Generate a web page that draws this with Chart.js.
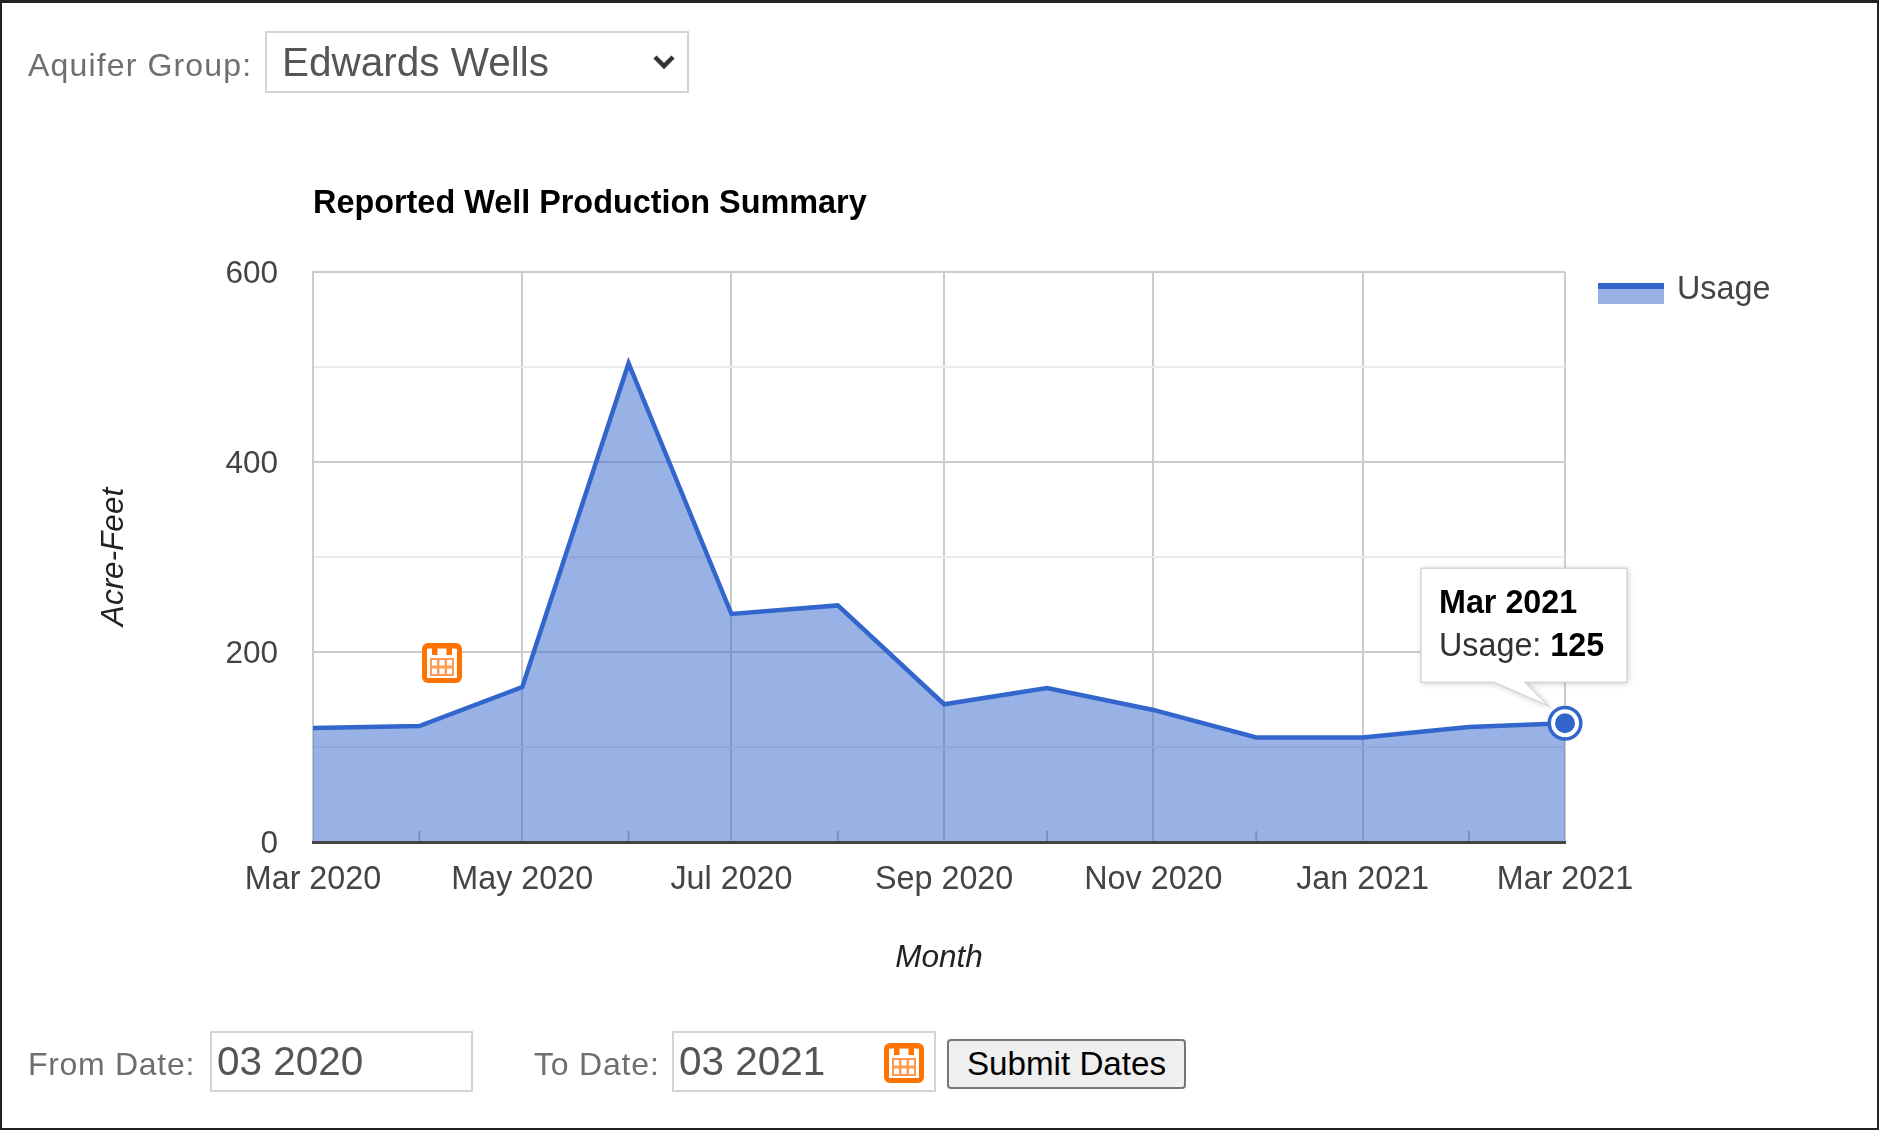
<!DOCTYPE html>
<html>
<head>
<meta charset="utf-8">
<title>Reported Well Production Summary</title>
<script src="https://cdn.jsdelivr.net/npm/chart.js@4/dist/chart.umd.min.js"></script>
<style>
  html, body { margin: 0; padding: 0; background: #fff; overflow: hidden; }
  body { font-family: "Liberation Sans", Arial, sans-serif; }
  #page { position: relative; width: 1879px; height: 1130px; box-sizing: border-box; }
  #frame { position: absolute; left: 0; top: 0; width: 1879px; height: 1130px; box-sizing: border-box;
           border: 2px solid #222; border-top-width: 3px; pointer-events: none; }
  #chart { position: absolute; left: 0; top: 0; }
  .label { position: absolute; color: #6f6f6f; font-size: 32px; line-height: 36px; white-space: nowrap; }
  .field { position: absolute; box-sizing: border-box; border: 2px solid #d4d4d4; background: #fff;
           color: #555; font: 40.5px "Liberation Sans", Arial, sans-serif; padding: 0; margin: 0; outline: none; border-radius: 0; }
  select.field { appearance: none; -webkit-appearance: none; padding-left: 15px; }
  input.field { padding-left: 5px; }
  #submit { position: absolute; left: 947px; top: 1039px; width: 239px; height: 50px; box-sizing: border-box;
            border: 2px solid #767676; border-radius: 4px; background: #efefef; color: #000;
            font: 33.2px "Liberation Sans", Arial, sans-serif; padding: 0; }
  #chevron { position: absolute; left: 652px; top: 54px; }
  .cal { position: absolute; width: 40px; height: 40px; }
</style>
</head>
<body>
<div id="page">
  <canvas id="chart" width="1879" height="1130"></canvas>

  <span class="label" style="left:28px;top:47px;letter-spacing:1.15px">Aquifer Group:</span>
  <select class="field" style="left:265px;top:31px;width:424px;height:62px"><option>Edwards Wells</option></select>
  <svg id="chevron" width="24" height="16" viewBox="0 0 24 16"><path d="M3 3 L12 12 L21 3" fill="none" stroke="#333" stroke-width="4.5"/></svg>

  <span class="label" style="left:28px;top:1046px;letter-spacing:0.7px">From Date:</span>
  <input class="field" style="left:210px;top:1031px;width:263px;height:61px" value="03 2020">
  <span class="label" style="left:534px;top:1046px;letter-spacing:0.8px">To Date:</span>
  <input class="field" style="left:672px;top:1031px;width:264px;height:61px" value="03 2021">
  <button id="submit">Submit Dates</button>

  <svg width="0" height="0" style="position:absolute">
    <symbol id="calIcon" viewBox="0 0 40 40">
      <rect x="0" y="0" width="40" height="40" rx="6" fill="#ff7300"/>
      <rect x="5" y="5.5" width="30" height="29.5" rx="1" fill="#fff"/>
      <rect x="10" y="3" width="5.5" height="9" fill="#ff7300"/>
      <rect x="24.5" y="3" width="5.5" height="9" fill="#ff7300"/>
      <rect x="8" y="15" width="24" height="18" fill="#ff9a50"/>
      <g fill="#fff">
        <rect x="10" y="17" width="5" height="5.5"/><rect x="17.5" y="17" width="5" height="5.5"/><rect x="25" y="17" width="5" height="5.5"/>
        <rect x="10" y="25.5" width="5" height="5.5"/><rect x="17.5" y="25.5" width="5" height="5.5"/><rect x="25" y="25.5" width="5" height="5.5"/>
      </g>
    </symbol>
  </svg>
  <svg class="cal" style="left:422px;top:643px" viewBox="0 0 40 40"><use href="#calIcon"/></svg>
  <svg class="cal" style="left:884px;top:1043px" viewBox="0 0 40 40"><use href="#calIcon"/></svg>

  <div id="frame"></div>
</div>

<script>
const monthLabels = ['Mar 2020', 'Apr 2020', 'May 2020', 'Jun 2020', 'Jul 2020', 'Aug 2020', 'Sep 2020',
  'Oct 2020', 'Nov 2020', 'Dec 2020', 'Jan 2021', 'Feb 2021', 'Mar 2021'];
const monthStarts = ['2020-03-01', '2020-04-01', '2020-05-01', '2020-06-01', '2020-07-01', '2020-08-01', '2020-09-01',
  '2020-10-01', '2020-11-01', '2020-12-01', '2021-01-01', '2021-02-01', '2021-03-01'];
const usage = [120, 122, 163, 504, 240, 249, 145, 162, 139, 110, 110, 121, 125];
const yTicks = [0, 100, 200, 300, 400, 500, 600];
const yLabelled = [0, 200, 400, 600];

const BLUE = '#3366cc';
const TICK_FONT = 31.5;
const X_FONT = 32.3;

// the x axis is a real date axis, so months are placed by their day count
const dayOffsets = monthStarts.map(d => (Date.parse(d) - Date.parse(monthStarts[0])) / 86400000);
const points = dayOffsets.map((d, i) => ({ x: d, y: usage[i] }));
const lastIndex = usage.length - 1;

const googleExtras = {
  id: 'googleExtras',
  afterDatasetsDraw(chart) {
    const ctx = chart.ctx;
    const x = chart.scales.x;
    const bottom = chart.chartArea.bottom;

    // small ticks for the unlabelled months
    ctx.save();
    ctx.strokeStyle = 'rgba(60,80,130,0.35)';
    ctx.lineWidth = 2;
    dayOffsets.forEach((d, i) => {
      if (i % 2 === 0) return;
      const px = x.getPixelForValue(d);
      ctx.beginPath();
      ctx.moveTo(px, bottom);
      ctx.lineTo(px, bottom - 11);
      ctx.stroke();
    });
    ctx.restore();
  },
  afterDraw(chart) {
    const ctx = chart.ctx;
    const area = chart.chartArea;
    const ds = chart.data.datasets[0];
    const pt = chart.getDatasetMeta(0).data[lastIndex];

    // legend
    ctx.save();
    const lx = area.right + 33, ly = area.top + 11;
    ctx.fillStyle = ds.backgroundColor;
    ctx.fillRect(lx, ly, 66, 21);
    ctx.fillStyle = BLUE;
    ctx.fillRect(lx, ly, 66, 6);
    ctx.fillStyle = '#444';
    ctx.font = X_FONT + 'px "Liberation Sans"';
    ctx.textBaseline = 'alphabetic';
    ctx.fillText(ds.label, lx + 79, area.top + 27);

    // ring around the selected point
    ctx.beginPath();
    ctx.arc(pt.x, pt.y, 15.8, 0, Math.PI * 2);
    ctx.strokeStyle = BLUE;
    ctx.lineWidth = 3.5;
    ctx.stroke();

    // tooltip, placed relative to the selected point
    const bx = pt.x - 144, by = pt.y - 155, bw = 206, bh = 114;
    ctx.beginPath();
    ctx.moveTo(bx, by);
    ctx.lineTo(bx + bw, by);
    ctx.lineTo(bx + bw, by + bh);
    ctx.lineTo(pt.x - 40, by + bh);
    ctx.lineTo(pt.x - 16, pt.y - 17);
    ctx.lineTo(pt.x - 71, by + bh);
    ctx.lineTo(bx, by + bh);
    ctx.closePath();
    ctx.shadowColor = 'rgba(0,0,0,0.22)';
    ctx.shadowBlur = 6;
    ctx.shadowOffsetX = 1;
    ctx.shadowOffsetY = 1;
    ctx.fillStyle = '#fff';
    ctx.fill();
    ctx.shadowColor = 'transparent';
    ctx.strokeStyle = '#d8d8d8';
    ctx.lineWidth = 1.5;
    ctx.stroke();

    ctx.fillStyle = '#000';
    ctx.font = 'bold ' + X_FONT + 'px "Liberation Sans"';
    ctx.fillText(monthLabels[lastIndex], bx + 18, by + 45);
    ctx.font = X_FONT + 'px "Liberation Sans"';
    ctx.fillStyle = '#333';
    const prefix = ds.label + ': ';
    ctx.fillText(prefix, bx + 18, by + 88);
    const w = ctx.measureText(prefix).width;
    ctx.fillStyle = '#000';
    ctx.font = 'bold ' + X_FONT + 'px "Liberation Sans"';
    ctx.fillText(String(usage[lastIndex]), bx + 18 + w, by + 88);
    ctx.restore();
  }
};

Chart.defaults.font.family = '"Liberation Sans", Arial, sans-serif';

new Chart(document.getElementById('chart'), {
  type: 'line',
  data: {
    datasets: [{
      label: 'Usage',
      data: points,
      borderColor: BLUE,
      borderWidth: 4.5,
      backgroundColor: 'rgba(51,102,204,0.5)',
      fill: 'origin',
      tension: 0,
      clip: false,
      pointRadius: c => (c.dataIndex === lastIndex ? 12 : 0),
      pointBackgroundColor: BLUE,
      pointBorderColor: '#fff',
      pointBorderWidth: 4
    }]
  },
  options: {
    responsive: false,
    animation: false,
    events: [],
    layout: { padding: { left: 0, right: 314, top: 0, bottom: 153 } },
    plugins: {
      legend: { display: false },
      tooltip: { enabled: false },
      title: {
        display: true,
        text: 'Reported Well Production Summary',
        align: 'start',
        fullSize: false,
        color: '#000',
        font: { size: 32.4, weight: 'bold', lineHeight: 1.2 },
        padding: { top: 185, bottom: 48.1 }
      }
    },
    scales: {
      x: {
        type: 'linear',
        min: dayOffsets[0],
        max: dayOffsets[lastIndex],
        afterBuildTicks: axis => { axis.ticks = dayOffsets.map(v => ({ value: v })); },
        afterFit: axis => { axis.height = 135; },
        ticks: {
          autoSkip: false,
          maxRotation: 0,
          padding: 19,
          color: '#444',
          font: { size: X_FONT },
          callback: (v, i) => (i % 2 === 0 ? monthLabels[i] : '')
        },
        grid: {
          drawTicks: false,
          lineWidth: 2,
          color: c => (c.index % 2 === 0 ? '#cccccc' : 'rgba(0,0,0,0)')
        },
        border: { color: '#444', width: 3, z: 1 },
        title: {
          display: true,
          text: 'Month',
          color: '#222',
          font: { size: TICK_FONT, style: 'italic' },
          padding: { top: 0, bottom: 0 }
        }
      },
      y: {
        min: 0,
        max: 600,
        afterBuildTicks: axis => { axis.ticks = yTicks.map(v => ({ value: v })); },
        afterFit: axis => { axis.width = 313; },
        ticks: {
          autoSkip: false,
          padding: 35,
          labelOffset: 2.5,
          color: '#444',
          font: { size: TICK_FONT },
          callback: v => (yLabelled.includes(v) ? String(v) : '')
        },
        grid: {
          drawTicks: false,
          lineWidth: 2,
          color: c => (c.tick.value % 200 === 0 ? '#cccccc' : '#ebebeb')
        },
        border: { color: '#cccccc', width: 2 },
        title: {
          display: true,
          text: 'Acre-Feet',
          color: '#222',
          font: { size: TICK_FONT, style: 'italic' },
          padding: { top: 95, bottom: 0 }
        }
      }
    }
  },
  plugins: [googleExtras]
});
</script>
</body>
</html>
